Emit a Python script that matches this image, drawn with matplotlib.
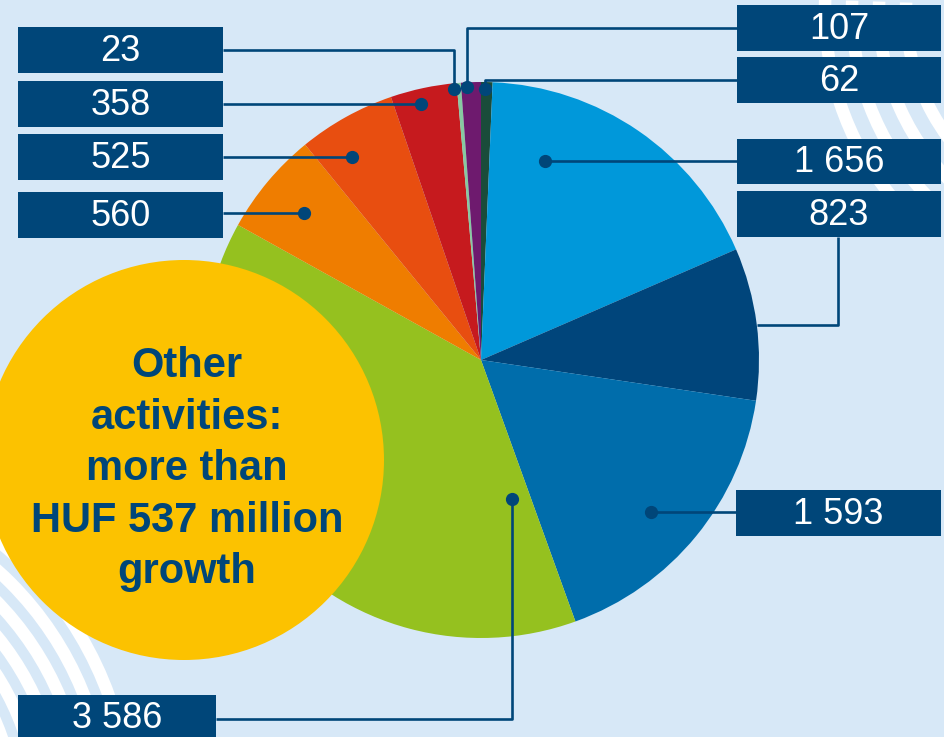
import math
import matplotlib.pyplot as plt
from matplotlib.patches import Rectangle, Circle, Arc

# slices, clockwise from the top
values = [62, 1656, 823, 1593, 3586, 560, 525, 358, 23, 107]
colors = ["#1A4C3A", "#0098DA", "#00457B", "#006DAB", "#95C11F",
          "#EF7D00", "#E84E10", "#C61A1E", "#87C9A1", "#6E1A6E"]
labels = [f"{v:,}".replace(",", " ") for v in values]

bubble_lines = ["Other", "activities:", "more than", "HUF 537 million", "growth"]

navy = "#004679"
bg = "#D7E8F7"

W, H = 944, 737
fig = plt.figure(figsize=(W / 100, H / 100), dpi=100)
fig.patch.set_facecolor(bg)
ax = fig.add_axes([0, 0, 1, 1])
ax.set_facecolor(bg)

# white wave stripes in the background (y axis runs downwards)
for r in [214, 241, 268, 295]:
    t1 = 180 - math.degrees(math.asin((195 - 10) / r))
    ax.add_patch(Arc((1120, 10), 2 * r, 2 * r, theta1=t1, theta2=182,
                     color="white", lw=9, zorder=0))
for r in [238, 261, 284, 307, 330, 353]:
    ax.add_patch(Arc((-223, 816), 2 * r, 2 * r, theta1=270, theta2=360,
                     color="white", lw=9, zorder=0))

# pie (y axis is inverted, so counterclock=True turns clockwise on screen)
ax.pie(values, colors=colors, startangle=270, counterclock=True,
       center=(481, 360), radius=278, frame=True,
       wedgeprops=dict(linewidth=0, zorder=1))

# label boxes: (x0, y0, x1, y1) per slice, and leader path ending at the dot
boxes = [
    (737, 57, 941, 103),
    (737, 139, 941, 184),
    (737, 191, 941, 237),
    (736, 490, 941, 536),
    (18, 695, 216, 741),
    (18, 192, 223, 238),
    (18, 134, 223, 180),
    (18, 81, 223, 127),
    (18, 27, 223, 73),
    (737, 5, 941, 51),
]
leaders = [
    [(737, 80), (485, 80), (485, 89)],
    [(737, 161), (545, 161)],
    [(838, 237), (838, 325), (757, 325)],
    [(736, 512), (651, 512)],
    [(216, 719), (512, 719), (512, 499)],
    [(223, 213), (304, 213)],
    [(223, 157), (352, 157)],
    [(223, 104), (421, 104)],
    [(223, 50), (454, 50), (454, 89)],
    [(737, 28), (467, 28), (467, 87)],
]
has_dot = [True, True, False, True, True, True, True, True, True, True]

for lab, (x0, y0, x1, y1), path, dot in zip(labels, boxes, leaders, has_dot):
    xs = [p[0] for p in path]
    ys = [p[1] for p in path]
    ax.plot(xs, ys, color=navy, lw=1.9, zorder=4, solid_capstyle="butt")
    if dot:
        ax.plot(xs[-1], ys[-1], "o", color=navy, ms=8.5, zorder=5)
    ax.add_patch(Rectangle((x0, y0), x1 - x0, y1 - y0, color=navy, lw=0, zorder=6))
    ty = (y0 + y1) / 2 if y1 < H else 718
    ax.text((x0 + x1) / 2, ty + 1, lab, color="white", fontsize=26,
            family="Liberation Sans", ha="center", va="center", zorder=7)

# yellow bubble
ax.add_patch(Circle((184, 460), 200, color="#FCC200", lw=0, zorder=3))
for i, line in enumerate(bubble_lines):
    ax.text(187, 366 + i * 51.5, line, color=navy, fontsize=30, fontweight="bold",
            family="Liberation Sans", ha="center", va="center", zorder=8)

ax.set_xlim(0, W)
ax.set_ylim(H, 0)
ax.set_aspect("auto")
ax.axis("off")
plt.savefig("out.png", dpi=100, facecolor=bg)
